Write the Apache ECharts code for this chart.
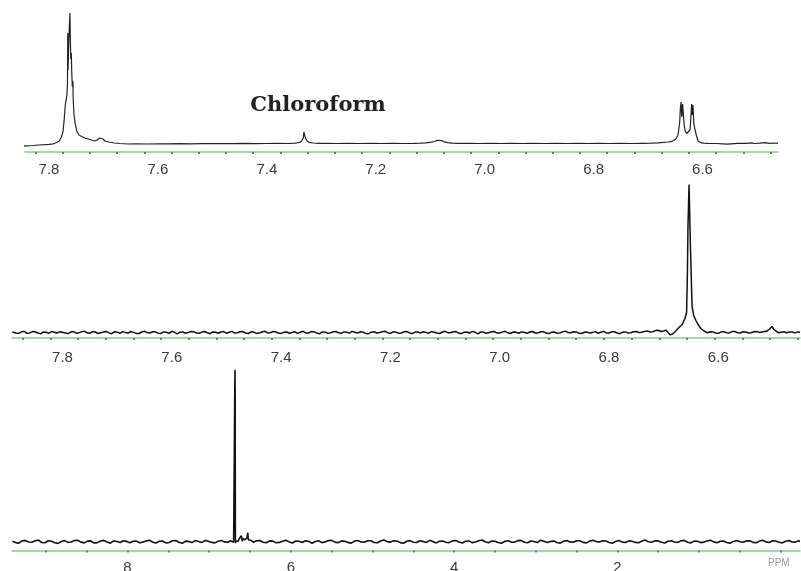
<!DOCTYPE html>
<html>
<head>
<meta charset="utf-8">
<script src="https://cdn.jsdelivr.net/npm/echarts@6.0.0/dist/echarts.min.js"></script>
<style>
html,body{margin:0;padding:0;background:#fff;}
#chart{width:801px;height:571px;}
</style>
</head>
<body>
<div id="chart"></div>
<script>
// ---------- DATA ----------
// Top spectrum (ppm, intensity)
var spectrumTop = [
[7.868,-1.2],[7.855,-1.0],[7.842,-0.8],[7.830,-0.5],[7.818,0],[7.808,0.3],[7.800,0.6],[7.792,1.2],[7.786,2.5],[7.781,4],
[7.777,8],[7.774,14],[7.772,26],[7.770,40],[7.768,47],[7.767,50],[7.766,62],[7.7655,112],[7.765,75],[7.764,96],
[7.7625,120],[7.7615,132],[7.7605,100],[7.760,86],[7.759,92],[7.758,70],[7.757,58],[7.756,64],[7.7555,46],[7.754,30],
[7.752,22],[7.749,14],[7.745,10],[7.740,8.5],[7.734,7],[7.728,6],[7.722,5],[7.716,4],[7.711,5],[7.707,7],
[7.704,8],[7.701,6],[7.697,4],[7.690,3],[7.680,2],[7.670,1.5],[7.655,1],[7.64,1.2],[7.62,1],[7.60,1.1],
[7.58,1.2],[7.56,1.3],[7.54,1.2],[7.52,1.4],[7.50,1.5],[7.48,1.4],[7.46,1.3],[7.44,1.6],[7.42,1.4],[7.40,1.5],
[7.38,1.6],[7.36,1.5],[7.348,1.8],[7.340,2.5],[7.336,4],[7.333,7],[7.332,13],[7.3305,13.3],[7.329,7],[7.326,4],
[7.322,2.6],[7.315,2],[7.305,1.7],[7.29,1.6],[7.27,1.5],[7.25,1.6],[7.23,1.5],[7.21,1.6],[7.19,1.5],[7.17,1.6],
[7.15,1.5],[7.13,1.6],[7.118,1.8],[7.108,2.2],[7.098,2.8],[7.092,3.5],[7.087,4.6],[7.084,5],[7.080,4.5],[7.075,3.4],
[7.068,2.4],[7.060,1.9],[7.05,1.7],[7.03,1.6],[7.01,1.5],[6.99,1.6],[6.97,1.5],[6.95,1.6],[6.93,1.5],[6.91,1.6],
[6.89,1.5],[6.87,1.6],[6.85,1.5],[6.83,1.6],[6.81,1.5],[6.79,1.6],[6.77,1.5],[6.75,1.6],[6.73,1.5],[6.71,1.7],
[6.695,1.8],[6.682,2.2],[6.672,2.6],[6.664,3],[6.658,3.4],[6.653,4.5],[6.649,6],[6.645,10],[6.642,22],[6.6405,38],
[6.6395,43],[6.638,28],[6.637,30],[6.6365,41],[6.6355,42],[6.634,22],[6.632,14],[6.629,11.5],[6.626,12],[6.623,15],
[6.6215,26],[6.620,41],[6.619,30],[6.618,32],[6.6175,40],[6.616,22],[6.6145,17],[6.613,15],[6.611,9],[6.608,4],
[6.604,2.4],[6.598,1.8],[6.59,1.6],[6.575,1.5],[6.562,1.2],[6.555,0.8],[6.548,1.2],[6.535,1.7],[6.52,1.6],[6.51,2.2],
[6.505,1.5],[6.495,1.8],[6.485,2.3],[6.478,1.6],[6.47,2],[6.4614,1.7]
];

// Middle spectrum (ppm, intensity)
var spectrumMid = [
[7.892,0.4],[7.885,-0.6],[7.88,-0.9],[7.875,0.7],[7.87,1.2],[7.865,-0.8],[7.86,-0.4],[7.855,0.9],[7.85,0.8],[7.845,-0.5],
[7.84,-1.3],[7.835,0.6],[7.83,0.3],[7.825,-0.9],[7.82,1.0],[7.815,0.2],[7.81,-0.7],[7.805,0.8],[7.80,0.2],[7.795,-0.6],
[7.79,-1.1],[7.785,0.4],[7.78,0.9],[7.775,-0.7],[7.77,-0.2],[7.765,0.6],[7.76,1.4],[7.755,-0.3],[7.75,-0.8],[7.745,0.9],
[7.74,0.5],[7.735,-1.0],[7.73,-0.3],[7.725,0.5],[7.72,1.1],[7.715,-0.4],[7.71,-1.2],[7.705,0.7],[7.70,0.4],[7.695,-0.8],
[7.69,0.9],[7.685,0.1],[7.68,-0.6],[7.675,1.0],[7.67,0.1],[7.665,-0.9],[7.66,-1.0],[7.655,0.5],[7.65,1.3],[7.645,-0.2],
[7.64,-0.5],[7.635,0.8],[7.63,0.7],[7.625,-0.7],[7.62,-0.9],[7.615,0.6],[7.61,0.3],[7.605,-0.8],[7.60,1.2],[7.595,0.1],
[7.59,-1.4],[7.585,0.3],[7.58,0.6],[7.575,-0.7],[7.57,-0.1],[7.565,1.0],[7.56,0.8],[7.555,-0.6],[7.55,-0.7],[7.545,0.4],
[7.54,1.0],[7.535,-0.3],[7.53,-1.2],[7.525,0.6],[7.52,0.2],[7.515,-0.8],[7.51,0.5],[7.505,0.9],[7.50,-0.8],[7.495,0.2],
[7.49,1.1],[7.485,-0.6],[7.48,-0.3],[7.475,0.8],[7.47,0.9],[7.465,-0.5],[7.46,-1.0],[7.455,0.7],[7.45,0.4],[7.445,-0.9],
[7.44,-0.6],[7.435,0.5],[7.43,1.3],[7.425,-0.4],[7.42,-0.2],[7.415,0.9],[7.41,0.7],[7.405,-0.6],[7.40,-1.1],[7.395,0.3],
[7.39,0.5],[7.385,-0.7],[7.38,0.0],[7.375,0.8],[7.37,-0.9],[7.365,0.2],[7.36,1.2],[7.355,-0.4],[7.35,-0.5],[7.345,0.9],
[7.34,0.8],[7.335,-0.6],[7.33,-1.3],[7.325,0.4],[7.32,0.6],[7.315,-0.8],[7.31,-0.4],[7.305,0.7],[7.30,1.0],[7.295,-0.3],
[7.29,-0.8],[7.285,0.6],[7.28,0.3],[7.275,-0.6],[7.27,1.1],[7.265,0.2],[7.26,-0.6],[7.255,0.7],[7.25,0.2],[7.245,-0.9],
[7.24,-1.2],[7.235,0.3],[7.23,0.7],[7.225,-0.5],[7.22,-0.1],[7.215,0.8],[7.21,1.3],[7.205,-0.2],[7.20,-0.9],[7.195,0.6],
[7.19,0.4],[7.185,-0.8],[7.18,-0.5],[7.175,0.7],[7.17,1.0],[7.165,-0.4],[7.16,-1.1],[7.155,0.4],[7.15,0.6],[7.145,-0.6],
[7.14,0.8],[7.135,0.1],[7.13,-0.7],[7.125,0.9],[7.12,0.2],[7.115,-0.5],[7.11,-1.0],[7.105,0.5],[7.10,1.2],[7.095,-0.2],
[7.09,-0.3],[7.085,0.8],[7.08,0.9],[7.075,-0.6],[7.07,-1.2],[7.065,0.3],[7.06,0.5],[7.055,-0.7],[7.05,1.1],[7.045,0.2],
[7.04,-1.3],[7.035,0.5],[7.03,0.4],[7.025,-0.8],[7.02,-0.2],[7.015,0.7],[7.01,0.9],[7.005,-0.5],[7.00,-0.6],[6.995,0.6],
[6.99,1.2],[6.985,-0.3],[6.98,-1.0],[6.975,0.6],[6.97,0.3],[6.965,-0.7],[6.96,0.6],[6.955,0.2],[6.95,-0.9],[6.945,0.5],
[6.94,1.0],[6.935,-0.5],[6.93,-0.4],[6.925,0.7],[6.92,0.8],[6.915,-0.6],[6.91,-1.1],[6.905,0.3],[6.90,0.5],[6.895,-0.8],
[6.89,-0.5],[6.885,0.6],[6.88,1.4],[6.875,-0.1],[6.87,-0.3],[6.865,0.8],[6.86,0.6],[6.855,-0.7],[6.85,-1.0],[6.845,0.3],
[6.84,0.4],[6.835,-0.6],[6.83,0.1],[6.825,0.9],[6.82,-0.8],[6.815,0.2],[6.81,1.1],[6.805,-0.4],[6.80,-0.6],[6.795,0.7],
[6.79,0.7],[6.785,-0.5],[6.78,-1.2],[6.775,0.3],[6.77,0.6],[6.765,-0.6],[6.76,-0.3],[6.755,0.8],[6.75,1.0],[6.745,-0.1],
[6.74,0.2],[6.735,1.1],[6.73,1.6],[6.725,0.5],[6.72,0.8],[6.715,1.9],[6.71,2.2],[6.705,1.0],[6.70,1.4],[6.696,2.4],
[6.693,2.6],[6.688,-2.4],[6.683,-1.2],[6.678,1.5],[6.672,5],[6.666,8],[6.661,14],[6.658,20],[6.6565,60],[6.6555,106],
[6.6545,104],[6.6535,148],[6.652,110],[6.651,86],[6.6495,56],[6.648,26],[6.645,17],[6.641,12],[6.637,8],[6.632,4],
[6.626,1.5],[6.62,-0.3],[6.615,0.8],[6.61,0.6],[6.605,-0.5],[6.60,-0.8],[6.595,0.6],[6.59,0.9],[6.585,-0.3],[6.58,-0.4],
[6.575,0.9],[6.57,1.1],[6.565,-0.2],[6.56,-0.6],[6.555,0.7],[6.55,0.5],[6.545,-0.5],[6.54,-0.2],[6.535,0.8],[6.53,1.0],
[6.525,0.1],[6.52,0.4],[6.516,0.9],[6.512,1.2],[6.506,3.5],[6.502,6],[6.498,3],[6.493,0.8],[6.489,-0.2],[6.485,0.3],
[6.48,0.7],[6.475,-0.3],[6.47,0.6],[6.465,0.5],[6.46,-0.4],[6.455,0.6],[6.4505,0.2]
];

// Bottom (full range) spectrum (ppm, intensity)
var spectrumFull = [
[9.41,0.5],[9.37,-0.9],[9.33,-1.4],[9.29,0.8],[9.25,1.2],[9.21,-0.3],[9.17,-0.6],[9.13,1.0],[9.09,1.6],[9.05,-0.8],
[9.01,-1.0],[8.97,0.9],[8.93,0.4],[8.89,-1.1],[8.85,-1.7],[8.81,0.2],[8.77,1.1],[8.73,-0.7],[8.69,-0.3],[8.65,1.2],
[8.61,1.5],[8.57,-0.4],[8.53,-1.2],[8.49,0.6],[8.45,0.8],[8.41,-1.3],[8.37,-0.9],[8.33,0.7],[8.29,1.3],[8.25,-0.2],
[8.21,-1.5],[8.17,0.9],[8.13,0.2],[8.09,-0.8],[8.05,1.0],[8.01,0.3],[7.97,-1.1],[7.93,0.5],[7.89,0.6],[7.85,-1.0],
[7.81,-0.4],[7.77,0.8],[7.73,1.4],[7.69,-0.6],[7.65,-1.3],[7.61,0.4],[7.57,0.7],[7.53,-1.2],[7.49,-0.8],[7.45,0.9],
[7.41,1.2],[7.37,-0.5],[7.33,-1.6],[7.29,0.6],[7.25,0.3],[7.21,-0.9],[7.17,1.1],[7.13,0.2],[7.09,-0.9],[7.05,1.3],
[7.01,0.5],[6.97,-0.7],[6.93,-1.2],[6.89,0.4],[6.85,1.3],[6.81,-0.2],[6.77,-0.5],[6.74,0.9],[6.72,0.8],[6.70,-0.5],
[6.695,-2.5],[6.690,1.5],[6.6865,146],[6.6835,172],[6.6815,146],[6.679,3],[6.676,-1.5],[6.672,1],[6.665,0.2],[6.655,2.5],
[6.645,0.5],[6.632,3],[6.62,1],[6.605,6],[6.595,0.5],[6.585,3],[6.575,1],[6.56,2],[6.545,0],[6.535,4],
[6.527,9],[6.52,2],[6.51,0.5],[6.49,1.5],[6.46,-0.5],[6.42,0.9],[6.38,1.2],[6.34,-0.6],[6.30,-1.1],[6.26,0.8],
[6.22,0.6],[6.18,-1.0],[6.14,-0.7],[6.10,0.5],[6.06,1.5],[6.02,-0.2],[5.98,-1.3],[5.94,0.7],[5.90,0.4],[5.86,-0.8],
[5.82,1.0],[5.78,0.3],[5.74,-1.6],[5.70,0.2],[5.66,0.9],[5.62,-0.9],[5.58,-0.2],[5.54,1.1],[5.50,1.3],[5.46,-0.4],
[5.42,-1.0],[5.38,0.8],[5.34,0.5],[5.30,-0.7],[5.26,-1.4],[5.22,0.6],[5.18,1.2],[5.14,-0.2],[5.10,-0.6],[5.06,1.0],
[5.02,0.9],[4.98,-0.8],[4.94,-1.1],[4.90,0.7],[4.86,1.6],[4.82,0.1],[4.78,-0.4],[4.74,1.0],[4.70,0.7],[4.66,-0.9],
[4.62,-1.5],[4.58,0.4],[4.54,1.1],[4.50,-0.5],[4.46,-0.8],[4.42,0.9],[4.38,0.3],[4.34,-0.7],[4.30,1.4],[4.26,0.2],
[4.22,-1.2],[4.18,0.5],[4.14,0.6],[4.10,-0.6],[4.06,-0.9],[4.02,0.8],[3.98,1.2],[3.94,-0.3],[3.90,-1.3],[3.86,0.4],
[3.82,0.8],[3.78,-0.9],[3.74,-0.3],[3.70,0.9],[3.66,1.7],[3.62,-0.1],[3.58,-1.0],[3.54,0.6],[3.50,0.5],[3.46,-0.8],
[3.42,-1.6],[3.38,0.3],[3.34,1.0],[3.30,-0.4],[3.26,-0.5],[3.22,1.1],[3.18,1.3],[3.14,-0.6],[3.10,-1.1],[3.06,0.7],
[3.02,0.2],[2.98,-0.9],[2.94,1.5],[2.90,0.4],[2.86,-0.9],[2.82,0.3],[2.78,0.6],[2.74,-0.8],[2.70,-1.4],[2.66,0.5],
[2.62,1.1],[2.58,-0.2],[2.54,-0.6],[2.50,1.0],[2.46,0.9],[2.42,-0.7],[2.38,-1.2],[2.34,0.6],[2.30,1.4],[2.26,0.1],
[2.22,-0.3],[2.18,0.9],[2.14,0.7],[2.10,-0.8],[2.06,-1.5],[2.02,0.3],[1.98,1.2],[1.94,-0.4],[1.90,-0.8],[1.86,0.8],
[1.82,0.4],[1.78,-0.7],[1.74,-1.1],[1.70,0.6],[1.66,1.6],[1.62,0.0],[1.58,-0.5],[1.54,0.9],[1.50,0.8],[1.46,-0.6],
[1.42,-1.3],[1.38,0.4],[1.34,1.0],[1.30,-0.3],[1.26,-0.7],[1.22,0.9],[1.18,1.3],[1.14,-0.5],[1.10,-1.2],[1.06,0.6],
[1.02,0.5],[0.98,-0.9],[0.94,-0.4],[0.90,0.7],[0.86,1.4],[0.82,-0.2],[0.78,-1.0],[0.74,0.5],[0.70,0.6],[0.66,-0.8],
[0.62,-1.5],[0.58,0.3],[0.54,1.2],[0.50,-0.1],[0.46,-0.6],[0.42,0.8],[0.38,0.9],[0.34,-0.7],[0.30,-1.1],[0.26,0.6],
[0.22,1.5],[0.18,-0.2],[0.14,-0.8],[0.10,0.9],[0.06,0.7],[0.02,-0.6],[-0.02,-1.2],[-0.06,0.5],[-0.10,1.1],[-0.14,-0.3],
[-0.18,-0.4],[-0.21,0.8],[-0.2364,0.6]
];

// Axis tick labels (ppm)
var labelsTop = [7.8, 7.6, 7.4, 7.2, 7.0, 6.8, 6.6];
var labelsMid = [7.8, 7.6, 7.4, 7.2, 7.0, 6.8, 6.6];
var labelsFull = [8, 6, 4, 2];

// Tick dot positions (ppm)
var ticksTop = [7.825,7.775,7.725,7.675,7.625,7.575,7.525,7.475,7.425,7.375,7.325,7.275,7.225,7.175,
  7.125,7.075,7.025,6.975,6.925,6.875,6.825,6.775,6.725,6.675,6.625,6.575,6.525,6.475];
var ticksMid = [7.873,7.822,7.772,7.721,7.670,7.620,7.569,7.518,7.468,7.417,7.366,7.316,7.265,7.214,
  7.164,7.113,7.062,7.012,6.961,6.910,6.860,6.809,6.759,6.708,6.657,6.607,6.556,6.505,6.455];
var ticksFull = [9,8.5,8,7.5,7,6.5,6,5.5,5,4.5,4,3.5,3,2.5,2,1.5,1,0.5,0];

var solventLabel = 'Chloroform';
var unitLabel = 'PPM';

// ---------- CHART ----------
var green = '#86cc86';
var greenDot = '#3f9a3f';
var labelColor = '#3a3a3a';
var labelFont = 'Liberation Sans, Arial, sans-serif';

function makeX(gridIndex, min, max, labels, ticks, margin, decimals) {
  return {
    type: 'value', gridIndex: gridIndex, inverse: true, min: min, max: max,
    axisLine: { show: true, onZero: false, lineStyle: { color: green, width: 1.5 } },
    axisTick: { show: true, length: 2, customValues: ticks, lineStyle: { color: greenDot, width: 2 } },
    axisLabel: {
      show: true, customValues: labels, margin: margin, color: labelColor,
      fontSize: 15, fontFamily: labelFont,
      formatter: function (v) { return decimals ? Number(v).toFixed(decimals) : String(Math.round(v)); }
    },
    splitLine: { show: false }, minorTick: { show: false }
  };
}
function makeY(gridIndex, min, max) {
  return { type: 'value', gridIndex: gridIndex, min: min, max: max, show: false, splitLine: { show: false } };
}
function makeSeries(idx, data, width, color) {
  return {
    type: 'line', xAxisIndex: idx, yAxisIndex: idx, data: data,
    showSymbol: false, symbol: 'none', clip: false, animation: false,
    lineStyle: { color: color, width: width }
  };
}

var chart = echarts.init(document.getElementById('chart'), null, { renderer: 'canvas' });
chart.setOption({
  backgroundColor: '#ffffff',
  animation: false,
  grid: [
    { left: 25, right: 23, top: 10, bottom: 419, outerBoundsMode: 'none', containLabel: false },
    { left: 12, right: 1, top: 180, bottom: 233, outerBoundsMode: 'none', containLabel: false },
    { left: 12, right: 1, top: 360, bottom: 20.5, outerBoundsMode: 'none', containLabel: false }
  ],
  xAxis: [
    makeX(0, 6.4614, 7.844, labelsTop, ticksTop, 10, 1),
    makeX(1, 6.4505, 7.8924, labelsMid, ticksMid, 12, 1),
    makeX(2, -0.2364, 9.4146, labelsFull, ticksFull, 10, 0)
  ],
  yAxis: [
    makeY(0, -7, 135),
    makeY(1, -5.5, 152.5),
    makeY(2, -8.8, 181.7)
  ],
  series: [
    makeSeries(0, spectrumTop, 1.2, '#222'),
    makeSeries(1, spectrumMid, 1.5, '#111'),
    makeSeries(2, spectrumFull, 1.6, '#111')
  ],
  graphic: [
    { type: 'text', x: 318, y: 106, style: { text: solventLabel, x: 0, y: 0, align: 'center', verticalAlign: 'middle',
      fill: '#222', font: 'bold 21px "DejaVu Serif", serif' } },
    { type: 'text', x: 768, y: 563, style: { text: unitLabel, align: 'left', verticalAlign: 'middle',
      fill: '#9a9a9a', font: '10px "Liberation Sans", Arial, sans-serif' } }
  ]
});
</script>
</body>
</html>
